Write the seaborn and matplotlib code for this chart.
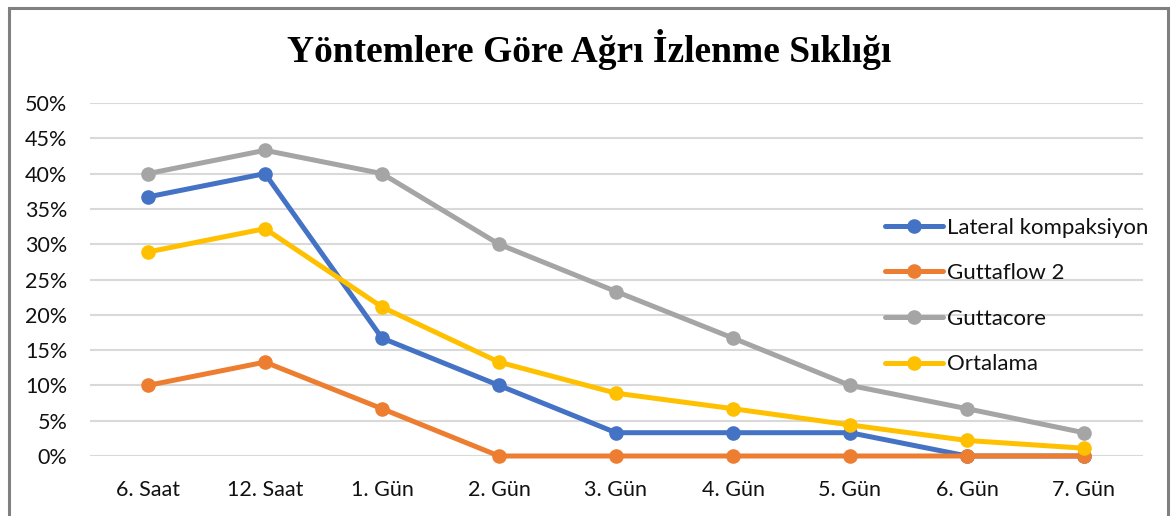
import matplotlib
matplotlib.use("Agg")
import matplotlib.pyplot as plt
import seaborn as sns
import pandas as pd
from matplotlib.patches import Rectangle
from matplotlib.ticker import PercentFormatter, MultipleLocator

categories = ["6. Saat", "12. Saat", "1. Gün", "2. Gün", "3. Gün", "4. Gün", "5. Gün", "6. Gün", "7. Gün"]
lateral = [36.7, 40.0, 16.7, 10.0, 3.3, 3.3, 3.3, 0.0, 0.0]
guttaflow = [10.0, 13.3, 6.7, 0.0, 0.0, 0.0, 0.0, 0.0, 0.0]
guttacore = [40.0, 43.3, 40.0, 30.0, 23.3, 16.7, 10.0, 6.7, 3.3]
ortalama = [28.9, 32.2, 21.1, 13.3, 8.9, 6.7, 4.4, 2.2, 1.1]
series_names = ["Lateral kompaksiyon", "Guttaflow 2", "Guttacore", "Ortalama"]
colors = ["#4472C4", "#ED7D31", "#A5A5A5", "#FFC000"]
title = "Yöntemlere Göre Ağrı İzlenme Sıklığı"

rows = []
for name, vals in zip(series_names, [lateral, guttaflow, guttacore, ortalama]):
    for c, v in zip(categories, vals):
        rows.append({"Kategori": c, "Değer": v / 100.0, "Seri": name})
df = pd.DataFrame(rows)

sns.set_theme(style="white")
plt.rcParams["font.family"] = ["Lato", "DejaVu Sans"]

fig = plt.figure(figsize=(11.71, 5.16), dpi=100)
W, H = 1171, 516
ax = fig.add_axes([89.5 / W, 1 - 456 / H, (1142.5 - 89.5) / W, (456 - 103) / H])

sns.lineplot(data=df, x="Kategori", y="Değer", hue="Seri", hue_order=series_names,
             palette=colors, marker="o", markersize=10.5, markeredgewidth=0,
             linewidth=3.6, sort=False, ax=ax, zorder=3, clip_on=False)

ax.set_xlim(-0.5, len(categories) - 0.5)
ax.set_ylim(0, 0.5)
ax.yaxis.set_major_locator(MultipleLocator(0.05))
ax.yaxis.set_major_formatter(PercentFormatter(1.0, decimals=0))
ax.grid(axis="y", color="#D9D9D9", linewidth=1.5, zorder=0)
ax.grid(axis="x", visible=False)
ax.set_axisbelow(True)
for s in ax.spines.values():
    s.set_visible(False)
ax.tick_params(axis="both", length=0, labelsize=15.5, colors="#111111")
ax.tick_params(axis="y", pad=16)
ax.tick_params(axis="x", pad=17)
ax.set_xlabel("")
ax.set_ylabel("")

leg = ax.legend(loc="center left", bbox_to_anchor=(885 / W, 1 - 296 / H),
                bbox_transform=fig.transFigure, frameon=False, fontsize=16,
                handlelength=2.6, handletextpad=0.2, labelspacing=1.15,
                borderpad=0, borderaxespad=0)
for t in leg.get_texts():
    t.set_color("#111111")

fig.text(0.503, 1 - 50 / H, title, ha="center", va="center", color="black",
         fontsize=27, fontweight="bold", family=["Liberation Serif", "DejaVu Serif"])

fig.patches.append(Rectangle((8.5 / W, -0.1), (1168 - 8.5) / W, 1.1 - 7.5 / H,
                             transform=fig.transFigure, fill=False,
                             edgecolor="#808080", linewidth=2.2))

fig.savefig("out.png", dpi=100)
